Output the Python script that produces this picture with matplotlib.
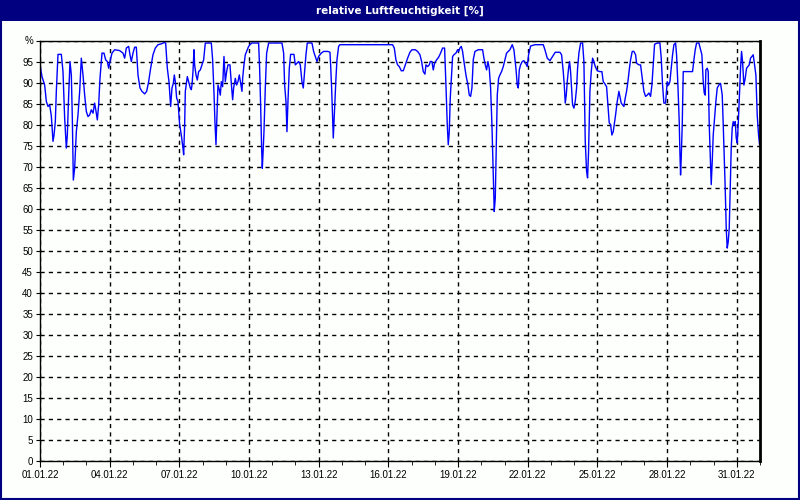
import numpy as np
import matplotlib
matplotlib.use('Agg')
import matplotlib.pyplot as plt
import matplotlib.dates as mdates
from matplotlib.patches import Rectangle
import pandas as pd

# relative humidity (day offset from 01.01.22 00:00, %)
days = [0.0, 0.086, 0.201, 0.273, 0.345, 0.416, 0.488, 0.560, 0.603, 0.660, 0.703, 0.775, 0.918,
        0.990, 1.062, 1.134, 1.177, 1.234, 1.292, 1.349, 1.392, 1.435, 1.492, 1.564, 1.636, 1.708,
        1.779, 1.851, 1.923, 1.995, 2.066, 2.138, 2.210, 2.282, 2.353, 2.425, 2.468, 2.526, 2.583,
        2.669, 2.755, 2.827, 2.899, 2.956, 3.013, 3.100, 3.214, 3.430, 3.573, 3.645, 3.717, 3.817,
        3.874, 3.932, 4.004, 4.075, 4.147, 4.219, 4.305, 4.391, 4.506, 4.592, 4.678, 4.764, 4.864,
        4.965, 5.080, 5.223, 5.338, 5.410, 5.482, 5.553, 5.625, 5.682, 5.740, 5.783, 5.826, 5.883,
        5.941, 6.012, 6.084, 6.156,
        6.185, 6.228, 6.257, 6.314, 6.343, 6.400, 6.472, 6.515, 6.544, 6.587, 6.630, 6.658, 6.716,
        6.773, 6.830, 6.902, 6.974, 7.046, 7.117, 7.376, 7.433, 7.491, 7.534, 7.577, 7.605, 7.663,
        7.720, 7.763, 7.806, 7.864, 7.921, 7.978, 8.036, 8.093, 8.179, 8.237, 8.294, 8.337, 8.409,
        8.466, 8.524, 8.581, 8.638, 8.696, 8.725, 8.782, 8.839, 8.925, 8.983, 9.055, 9.126, 9.413,
        9.456, 9.499, 9.542, 9.571, 9.600, 9.643, 9.700, 9.758, 9.844, 10.418, 10.490, 10.533,
        10.590, 10.633, 10.676, 10.734, 10.791, 10.934, 10.992, 11.063, 11.135, 11.207, 11.279,
        11.336, 11.394, 11.451, 11.508, 11.709, 11.781, 11.853, 11.925, 11.996, 12.111, 12.211,
        12.398,
        12.484, 12.513, 12.556, 12.599, 12.628, 12.656, 12.699, 12.742, 12.786, 12.857, 12.915,
        15.182, 15.254, 15.325, 15.397, 15.469, 15.555, 15.641, 15.727, 15.828, 15.928, 16.014,
        16.158, 16.258, 16.359, 16.430, 16.502, 16.574, 16.617, 16.689, 16.760, 16.803, 16.875,
        16.932, 16.990, 17.076, 17.162, 17.248, 17.334, 17.420, 17.478, 17.535, 17.578, 17.621,
        17.664, 17.722, 17.765, 17.836, 17.908, 17.980, 18.023, 18.080, 18.138, 18.195, 18.253,
        18.339, 18.425, 18.482, 18.540, 18.597,
        18.654, 18.726, 18.870, 19.056, 19.114, 19.171, 19.229, 19.286, 19.343, 19.401, 19.458,
        19.515, 19.558, 19.602, 19.645, 19.688, 19.745, 19.802, 19.874, 19.946, 20.018, 20.089,
        20.161, 20.233, 20.333, 20.405, 20.491, 20.549, 20.592, 20.635, 20.692, 20.764, 20.835,
        20.907, 20.979, 21.036, 21.123, 21.309, 21.668, 21.740, 21.840, 21.955, 22.070, 22.184,
        22.385, 22.457, 22.529, 22.572, 22.615, 22.658, 22.701, 22.758, 22.801, 22.844, 22.887,
        22.930, 22.988, 23.045, 23.103, 23.146, 23.203, 23.275, 23.361, 23.418, 23.476, 23.533,
        23.576, 23.619, 23.677, 23.734, 23.792, 23.849, 23.906, 23.992, 24.107, 24.193, 24.250,
        24.308, 24.394, 24.452, 24.509, 24.566, 24.624, 24.681,
        24.782, 24.853, 24.925, 24.968, 25.026, 25.083, 25.140, 25.198, 25.255, 25.313, 25.370,
        25.427, 25.499, 25.571, 25.643, 25.686, 25.786, 25.858, 25.930, 26.001, 26.073, 26.145,
        26.217, 26.288, 26.346, 26.403, 26.461, 26.575, 26.690, 26.748, 26.805, 26.862, 26.934,
        27.006, 27.063, 27.121, 27.178, 27.235, 27.293, 27.365, 27.408, 27.465, 27.522, 27.551,
        27.580, 27.609, 27.652, 27.695, 28.096, 28.154, 28.211, 28.269, 28.369, 28.441, 28.498,
        28.556, 28.599, 28.642, 28.670, 28.728, 28.771, 28.814, 28.871, 28.900, 28.943, 28.986,
        29.043, 29.101, 29.158, 29.230, 29.302, 29.374, 29.417, 29.460, 29.503, 29.546, 29.589,
        29.632, 29.675, 29.718, 29.761, 29.804, 29.847, 29.890, 29.933, 29.976, 30.019, 30.062,
        30.105, 30.163, 30.206, 30.249, 30.306, 30.364, 30.421, 30.478, 30.536, 30.593, 30.650,
        30.708, 30.765, 30.823, 30.880, 30.938, 30.981]

rh = [94.2, 91.4, 89.4, 85.5, 84.3, 84.7, 82, 76, 77.5, 80.7, 87.9, 96.7, 96.7,
      92.6, 81.5, 74.4, 77.5, 87, 95, 91.8, 81.5, 66.8, 69.6, 78.3, 82.3, 87.9,
      95.8, 91.8, 87, 83.1, 81.9, 82.3, 83.5, 82.7, 85.1, 82.7, 81.1, 84.7, 91,
      97, 97, 95.4, 95, 93.4, 95, 97, 97.8, 97.6, 97, 95.8, 98.2, 98.6,
      96.6, 95, 97, 98.4, 98.4, 91.8, 88.7, 87.9, 87.3, 87.9, 90.2, 93.4, 96.6,
      98.2, 99, 99.2, 99.5, 99.4, 93.4, 90.2, 84.3, 88.7, 89.8, 91.8, 90.2, 86.3,
      85.5, 80, 77.5, 74.4,
      72.8, 80, 87.9, 90.2, 91.4, 90.2, 88.7, 88.3, 89.4, 92.6, 97.8, 94.2, 91.8,
      90.6, 92.6, 93, 94.2, 95.4, 99.4, 99.4, 95.4, 87.5, 80.4, 75.2, 80, 89.4,
      88.3, 87, 90.2, 89, 96.2, 90.2, 92.6, 94.2, 94.2, 89.8, 85.9, 88.7, 91,
      89.4, 90.2, 91.8, 89.8, 87.9, 91, 94.2, 96.6, 97.8, 98.6, 99.1, 99.4, 99.4,
      93.4, 84.7, 74.4, 69.6, 72.8, 78.3, 88.7, 97, 99.4, 99.4, 97, 89.4,
      85.5, 78.3, 85.5, 93.4, 96.7, 96.7, 94.2, 94.6, 95, 94.2, 90.2,
      88.7, 92.6, 96.6, 99.4, 99.4, 97.4, 96.2, 95, 96.2, 97, 97.4,
      97.4,
      97.2, 94.2, 88.7, 81.5, 76.8, 80.4, 85.5, 91, 95.4, 98.6, 99,
      99, 98.2, 95.4, 94.2, 93.8, 92.8, 92.8, 94.2, 95.8, 97.2, 97.8,
      97.8, 97.4, 96.6, 95, 92.6, 92, 94.2, 93.8, 94.2, 95, 95,
      93, 94.6, 95.4, 96, 97, 98.2, 98.2, 89.4, 80, 75.2, 78.3,
      86.3, 91.8, 96.2, 96.7, 97, 97.8, 97.4, 98.2, 98.6, 97.4, 95,
      91.8, 89.4, 87, 86.7, 88.7,
      95.4, 97.4, 97.8, 97.8, 95.8, 94.2, 93, 95, 93.4, 88.7, 80,
      68, 59.3, 62.5, 75.2, 87, 91, 91.8, 92.6, 93.8, 95.4, 97,
      97.4, 97.8, 99, 97.8, 93.4, 89.4, 88.7, 93, 94.2, 95, 95.2,
      94.6, 93.8, 96.6, 98.7, 99, 99, 97.8, 95.8, 95.2, 96.2, 97.2,
      97.2, 96.6, 92.6, 89.4, 85.1, 87, 90.2, 93.4, 95, 92.6, 88.7,
      84.7, 83.9, 85.5, 88.7, 93.4, 97, 99.4, 99.4, 95, 76, 68.9,
      67.3, 73.6, 87.9, 92.6, 95.8, 95, 93.8, 92.8, 92.6, 92.6, 90.2,
      89.8, 89, 84.7, 80.4, 80, 77.5, 78.3,
      82.3, 85.5, 87.9, 86.7, 85.1, 84.7, 84.3, 86.3, 87.9, 90.2, 93,
      95.4, 97.4, 97.4, 96.6, 94.6, 94.2, 94.2, 91, 87.9, 86.7, 87,
      87.5, 86.7, 89.4, 94.2, 99.1, 99.4, 99.4, 95.8, 89.4, 85.1, 85.1,
      90.2, 89.4, 90.2, 93.4, 96.6, 99, 99.4, 96.6, 89.4, 80.7, 73.6,
      68, 72.1, 80, 92.6, 92.6, 95.4, 97.8, 99.4, 99.4, 97.8, 96.6,
      90.2, 87.5, 87, 93, 93.4, 92.6, 80, 70.4, 65.7, 71.2, 77.5,
      81.5, 85.5, 88.7, 89.4, 89.8, 87, 80, 72.1, 64.7, 55.3, 50.6,
      52.1, 55.3, 64.7, 74.4, 79.2, 80.7, 80, 80.7, 76.8, 75.6, 80,
      85.5, 93.4, 97.4, 95, 89.4, 91, 93.4, 93.8, 94.2, 95.8, 96.2,
      96.6, 94.2, 91.8, 82.3, 77.5, 75.2]

yticks = list(range(0, 101, 5))
ylabels = [str(v) for v in yticks[:-1]] + ['%']
label_dates = pd.date_range('2022-01-01', '2022-01-31', freq='3D')   # 01., 04., ... 31.

start = pd.Timestamp('2022-01-01')
t = start + pd.to_timedelta(np.array(days), unit='D')

navy = '#000080'
fig = plt.figure(figsize=(8, 5), dpi=100, facecolor='#fcfffc')
ax = fig.add_axes([0.05, 0.0786, 0.90, 0.8404])
ax.set_facecolor('#fcfffc')

ax.plot(t, rh, color='#0000ff', lw=1.0)

ax.set_ylim(0, 100)
ax.set_yticks(yticks)
ax.set_yticklabels(ylabels)
ax.set_xticks(label_dates)
ax.set_xticklabels(label_dates.strftime('%d.%m.%y'))
ax.xaxis.set_minor_locator(mdates.DayLocator())
ax.set_xlim(start, pd.Timestamp('2022-02-01'))

ax.grid(True, which='major', color='black', linestyle=(0, (3, 3)), lw=1)
ax.tick_params(axis='both', which='both', labelsize=7, colors='black', direction='out')
ax.tick_params(axis='x', which='major', length=4, pad=3)
ax.tick_params(axis='x', which='minor', length=3)
ax.tick_params(axis='y', length=3, pad=2)
for lab in ax.get_xticklabels() + ax.get_yticklabels():
    lab.set_family('Liberation Sans')
for s in ax.spines.values():
    s.set_color('black')
    s.set_linewidth(1)
ax.spines['right'].set_linewidth(2)

# title bar and outer frame
fig.patches.append(Rectangle((0, 1 - 20.5 / 500), 1, 20.5 / 500, transform=fig.transFigure,
                             facecolor=navy, edgecolor='none', zorder=0))
fig.patches.append(Rectangle((0.001, 0.002), 0.998, 0.997, transform=fig.transFigure,
                             facecolor='none', edgecolor=navy, lw=1.5, zorder=1))
fig.text(0.5, 1 - 10.5 / 500, 'relative Luftfeuchtigkeit [%]', color='white', ha='center',
         va='center', fontsize=7.5, fontweight='bold', family='DejaVu Sans')

fig.savefig('out.png', dpi=100, facecolor=fig.get_facecolor())
